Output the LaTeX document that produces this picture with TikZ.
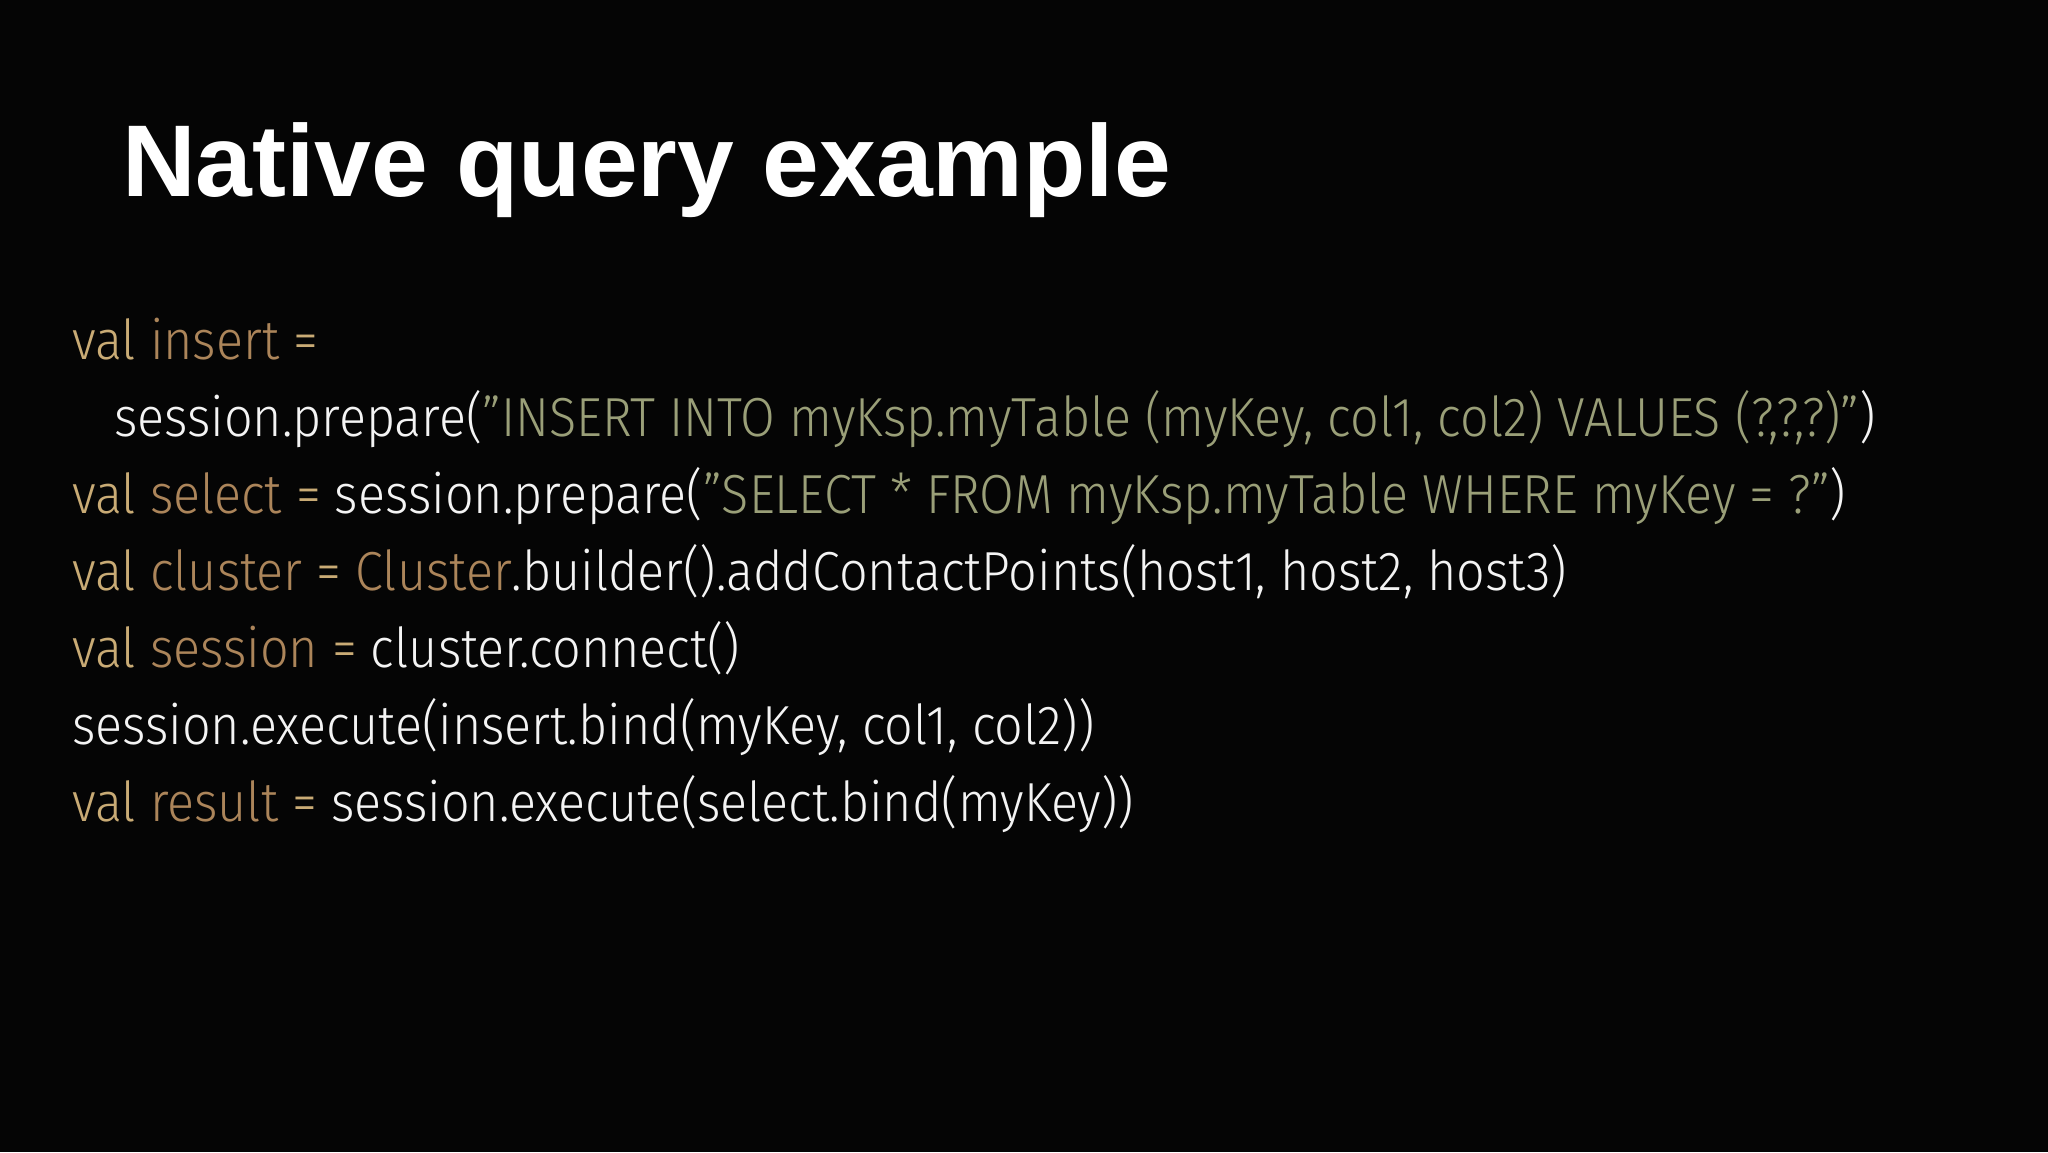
\documentclass[tikz,border=0pt]{standalone}
\usepackage{fontspec}
\setmainfont{Fira Sans Light}[FakeStretch=0.915]
\newfontfamily\titlefont{Liberation Sans}
\definecolor{bg}{HTML}{050505}
\definecolor{kw}{HTML}{C9AB75}
\definecolor{idn}{HTML}{AC855A}
\definecolor{str}{HTML}{9A9F78}
\definecolor{fg}{HTML}{F4F4F4}
\newcommand{\K}[1]{\textcolor{kw}{#1}}
\newcommand{\I}[1]{\textcolor{idn}{#1}}
\newcommand{\Sg}[1]{\textcolor{str}{#1}}
\newcommand{\Q}{\symbol{34}}
\begin{document}
\begin{tikzpicture}[x=1pt,y=-1pt,
  code/.style={anchor=base west,inner sep=0pt,text=fg,font=\fontsize{55}{60}\selectfont}]
\fill[bg] (0,0) rectangle (2048,1152);
\useasboundingbox (0,0) rectangle (2048,1152);
\node[anchor=base west,inner sep=0pt,text=white,font=\titlefont\bfseries\fontsize{102}{110}\selectfont] (title) at (122,196) {Native query example};
\node[code] (l1) at (72,359) {\K{val} \I{insert} \K{=}};
\node[code] (l2) at (114,436) {session.prepare(\Sg{\Q INSERT INTO myKsp.myTable (myKey, col1, col2) VALUES (?,?,?)\Q})};
\node[code] (l3) at (72,513) {\K{val} \I{select} \K{=} session.prepare(\Sg{\Q SELECT * FROM myKsp.myTable WHERE myKey = ?\Q})};
\node[code] (l4) at (72,590) {\K{val} \I{cluster} \K{=} \I{Cluster}.builder().addContactPoints(host1, host2, host3)};
\node[code] (l5) at (72,667) {\K{val} \I{session} \K{=} cluster.connect()};
\node[code] (l6) at (72,744) {session.execute(insert.bind(myKey, col1, col2))};
\node[code] (l7) at (72,821) {\K{val} \I{result} \K{=} session.execute(select.bind(myKey))};
\end{tikzpicture}
\end{document}
